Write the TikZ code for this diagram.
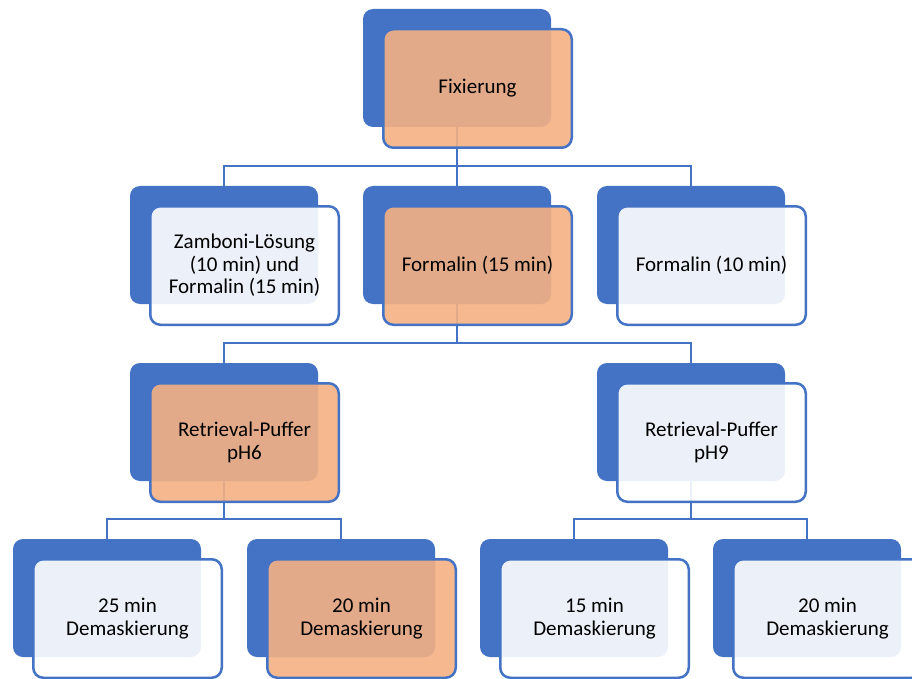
\documentclass[tikz,border=0pt]{standalone}
\usepackage{fontspec}
\setmainfont{Carlito}
\usetikzlibrary{calc}
\definecolor{accblue}{HTML}{4472C4}
\definecolor{accorange}{HTML}{F4B183}
\tikzset{
  backbox/.style={draw=none, fill=accblue, rounded corners=10pt,
    minimum width=188pt, minimum height=118pt, inner sep=0pt},
  frontbox/.style={draw=accblue, line width=2.5pt, rounded corners=10pt,
    fill opacity=0.9, text opacity=1,
    minimum width=188.5pt, minimum height=118.5pt, inner sep=0pt,
    align=center, font=\fontsize{21}{22.5}\selectfont},
  lightbox/.style={frontbox, fill=white},
  warmbox/.style={frontbox, fill=accorange},
  conn/.style={draw=accblue, line width=2.5pt},
}
\newcommand{\linkdown}[2]{\draw[conn] (#1.south) |- ($(#2.north)+(0,-20)$) -- (#2.north);}
\begin{document}
\begin{tikzpicture}[x=1pt,y=-1pt]
\useasboundingbox (0,0) rectangle (912,679);
\clip (0,0) rectangle (912,679);
\fill[white] (0,0) rectangle (912,679);

% back panels
\node[backbox] (b1) at (457,68) {};
\node[backbox] (b21) at (224,245) {};
\node[backbox] (b22) at (457,245) {};
\node[backbox] (b23) at (691,245) {};
\node[backbox] (b31) at (224,422) {};
\node[backbox] (b32) at (691,422) {};
\node[backbox] (b41) at (107,598) {};
\node[backbox] (b42) at (341,598) {};
\node[backbox] (b43) at (574,598) {};
\node[backbox] (b44) at (807,598) {};

% hierarchy connectors
\linkdown{b1}{b21}
\linkdown{b1}{b22}
\linkdown{b1}{b23}
\linkdown{b22}{b31}
\linkdown{b22}{b32}
\linkdown{b31}{b41}
\linkdown{b31}{b42}
\linkdown{b32}{b43}
\linkdown{b32}{b44}

% front panels with labels
\node[warmbox] (f1) at ($(b1)+(20.5,20.5)$) {Fixierung};
\node[lightbox] (f21) at ($(b21)+(20.5,20.5)$) {Zamboni-Lösung\\(10 min) und\\Formalin (15 min)};
\node[warmbox] (f22) at ($(b22)+(20.5,20.5)$) {Formalin (15 min)};
\node[lightbox] (f23) at ($(b23)+(20.5,20.5)$) {Formalin (10 min)};
\node[warmbox] (f31) at ($(b31)+(20.5,20.5)$) {Retrieval-Puffer\\pH6};
\node[lightbox] (f32) at ($(b32)+(20.5,20.5)$) {Retrieval-Puffer\\pH9};
\node[lightbox] (f41) at ($(b41)+(20.5,20.5)$) {25 min\\Demaskierung};
\node[warmbox] (f42) at ($(b42)+(20.5,20.5)$) {20 min\\Demaskierung};
\node[lightbox] (f43) at ($(b43)+(20.5,20.5)$) {15 min\\Demaskierung};
\node[lightbox] (f44) at ($(b44)+(20.5,20.5)$) {20 min\\Demaskierung};
\end{tikzpicture}
\end{document}
